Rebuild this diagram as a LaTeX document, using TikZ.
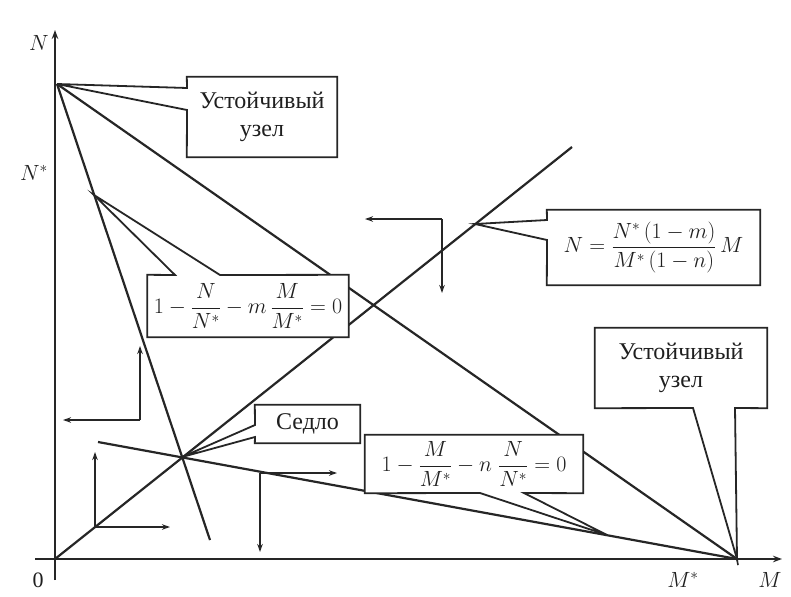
\documentclass[tikz,border=0pt]{standalone}
\usepackage{fix-cm}
\usepackage{amsmath}
\usepackage{fontspec}
\setmainfont{Liberation Serif}
\usetikzlibrary{arrows.meta,calc}
\pgfdeclarelayer{bg}
\pgfdeclarelayer{mid}
\pgfsetlayers{bg,mid,main}
\tikzset{
  ink/.style={draw=black!85},
  axis/.style={ink, line width=2.6pt},
  iso/.style={ink, line width=2.2pt},
  thinline/.style={ink, line width=1.6pt},
  arr/.style={thinline, -{Stealth[length=8pt,width=5.5pt]}},
  callout/.style={ink, line width=1.8pt, fill=white, line join=miter},
  txt/.style={inner sep=0pt, font=\fontsize{24}{28}\selectfont, align=center, text=black!88},
  mtxt/.style={inner sep=0pt, font=\fontsize{22}{26}\selectfont, align=center, text=black!88},
  box/.style={txt, draw=none},
  mbox/.style={mtxt, draw=none},
}
\begin{document}
\begin{tikzpicture}[x=1pt,y=-1pt]
\useasboundingbox (0,0) rectangle (791,596);

% key points
\coordinate (O) at (55,559);
\coordinate (Ntop) at (57,84);
\coordinate (Mn) at (737,559);
\coordinate (S) at (182,457);
\coordinate (steepEnd) at (210,540);
\coordinate (shallowStart) at (98,442);
\coordinate (diagEnd) at (572,147);
\coordinate (yaxB) at (55,580);
\coordinate (yaxT) at (55,30);
\coordinate (xaxL) at (35,559);
\coordinate (xaxR) at (782,559);
\coordinate (tickB) at (738,565);
\coordinate (pB) at (94,195);
\coordinate (pC) at (475,224);
\coordinate (pE) at (607,535);

% phase arrows corners / ends
\coordinate (g1) at (442,219);
\coordinate (g1l) at (365,219);
\coordinate (g1d) at (442,293);
\coordinate (g2) at (140,420);
\coordinate (g2u) at (140,346);
\coordinate (g2l) at (63,420);
\coordinate (g3) at (95,527);
\coordinate (g3u) at (95,452);
\coordinate (g3r) at (170,527);
\coordinate (g4) at (260,473);
\coordinate (g4r) at (337,473);
\coordinate (g4d) at (260,552);

% callout base points
\coordinate (a1) at (187,88);
\coordinate (a2) at (187,110);
\coordinate (b1) at (175,275);
\coordinate (b2) at (220,275);
\coordinate (c1) at (547,220);
\coordinate (c2) at (547,240);
\coordinate (d1) at (255,425);
\coordinate (d2) at (255,437);
\coordinate (e1) at (480,493);
\coordinate (e2) at (524,493);
\coordinate (f1) at (693,408);
\coordinate (f2) at (735,408);

% text boxes
\node[box, minimum width=150pt, minimum height=80pt] (A) at (262,117) {Устойчивый\\узел};
\node[mbox, minimum width=201pt, minimum height=62pt] (B) at (248,306) {$1-\dfrac{N}{N^{*}}-m\,\dfrac{M}{M^{*}}=0$};
\node[mbox, minimum width=213pt, minimum height=75pt] (C) at (653.5,247.5) {$N=\dfrac{N^{*}\,(1-m)}{M^{*}\,(1-n)}\,M$};
\node[box, minimum width=105pt, minimum height=38pt] (D) at (307.5,424) {Седло};
\node[mbox, minimum width=218pt, minimum height=58pt] (E) at (474,464) {$1-\dfrac{M}{M^{*}}-n\;\dfrac{N}{N^{*}}=0$};
\node[box, minimum width=172pt, minimum height=80pt] (F) at (681,368) {Устойчивый\\узел};

% axis labels
\node[mtxt] (lN) at (39,43) {$N$};
\node[mtxt] (lNs) at (34,173) {$N^{*}$};
\node[mtxt] (l0) at (38,580) {0};
\node[mtxt] (lMs) at (683,580) {$M^{*}$};
\node[mtxt] (lM) at (770,580) {$M$};

\begin{pgfonlayer}{bg}
  \fill[white] (0,0) rectangle (791,596);
  \draw[axis, -{Stealth[length=9pt,width=6.5pt]}] (yaxB) -- (yaxT);
  \draw[axis, -{Stealth[length=9pt,width=6.5pt]}] (xaxL) -- (xaxR);
  \draw[thinline] (Mn) -- (tickB);
  \draw[iso] (Ntop) -- (steepEnd);
  \draw[iso] (shallowStart) -- (Mn);
  \draw[iso] (O) -- (diagEnd);
  \draw[iso] (Ntop) -- (Mn);
  % direction arrows
  \draw[arr] (g1) -- (g1l);
  \draw[arr] (g1) -- (g1d);
  \draw[arr] (g2) -- (g2u);
  \draw[arr] (g2) -- (g2l);
  \draw[arr] (g3) -- (g3u);
  \draw[arr] (g3) -- (g3r);
  \draw[arr] (g4) -- (g4r);
  \draw[arr] (g4) -- (g4d);
\end{pgfonlayer}

\begin{pgfonlayer}{mid}
  \draw[callout] (A.north west) -- (a1) -- (Ntop) -- (a2) -- (A.south west) -- (A.south east) -- (A.north east) -- cycle;
  \draw[callout] (B.north west) -- (b1) -- (pB) -- (b2) -- (B.north east) -- (B.south east) -- (B.south west) -- cycle;
  \draw[callout] (C.north west) -- (c1) -- (pC) -- (c2) -- (C.south west) -- (C.south east) -- (C.north east) -- cycle;
  \draw[callout] (D.north west) -- (d1) -- (S) -- (d2) -- (D.south west) -- (D.south east) -- (D.north east) -- cycle;
  \draw[callout] (E.south west) -- (e1) -- (pE) -- (e2) -- (E.south east) -- (E.north east) -- (E.north west) -- cycle;
  \draw[callout] (F.south west) -- (f1) -- (Mn) -- (f2) -- (F.south east) -- (F.north east) -- (F.north west) -- cycle;
\end{pgfonlayer}
\end{tikzpicture}
\end{document}
